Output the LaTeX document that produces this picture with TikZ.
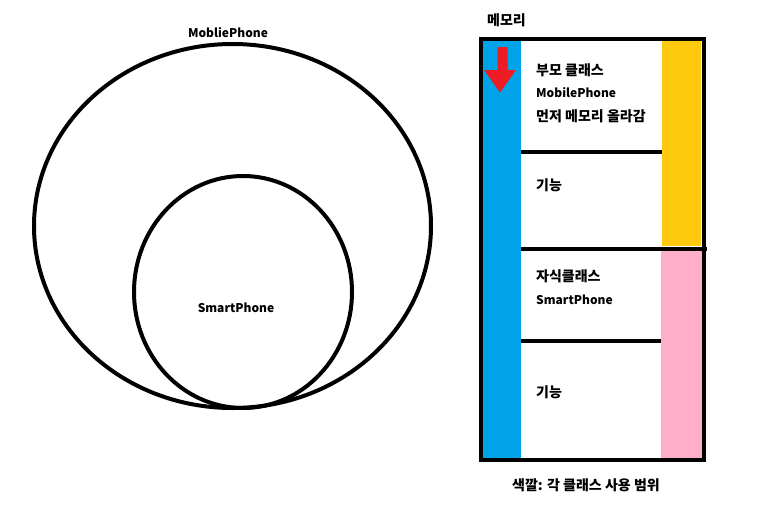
\documentclass[tikz,border=0pt]{standalone}
\usepackage{fontspec}
\setmainfont{Noto Sans CJK KR}
\definecolor{memblue}{RGB}{0,162,232}
\definecolor{memyellow}{RGB}{255,201,14}
\definecolor{mempink}{RGB}{255,174,201}
\definecolor{memred}{RGB}{237,28,36}
\tikzset{
  label text/.style={font=\fontsize{12}{14}\selectfont\bfseries, inner sep=0pt},
  kr text/.style={font=\fontsize{14}{16}\selectfont\bfseries, inner sep=0pt},
  mem text/.style={label text, anchor=west},
  mem kr/.style={kr text, anchor=west},
  wall/.style={line width=4pt, draw=black}
}
\begin{document}
\begin{tikzpicture}[x=1pt, y=-1pt]
        \useasboundingbox (0,0) rectangle (768,515);
        % class circles
        \draw[wall] (232.5,226) ellipse [x radius=198.5, y radius=182];
        \draw[wall] (243,292) ellipse [x radius=109, y radius=116];
        \node[label text] (mobile) at (228,33)  {MobliePhone};
        \node[label text] (smart)  at (236,308) {SmartPhone};

        % memory colour bands
        \fill[memblue]   (483,41)  rectangle (521,458);
        \fill[memyellow] (662,41)  rectangle (701,246);
        \fill[mempink]   (661,251) rectangle (703,458);
        % memory frame and slots
        \draw[wall] (481,39) rectangle (703.5,460);
        \draw[wall] (521,151.5) -- (662,151.5);
        \draw[wall] (521,249)   -- (706.5,249);
        \draw[wall] (521,341)   -- (661,341);
        % load direction
        \fill[memred] (497.5,47) -- (507.5,47) -- (507.5,70) -- (516,70)
                      -- (500,92.5) -- (484,70) -- (497.5,70) -- cycle;

        % memory labels
        \node[mem kr]   (memtitle) at (487,20)  {메모리};
        \node[mem kr]   (parent)   at (536,70)  {부모 클래스};
        \node[mem text] (pname)    at (536,93)  {MobilePhone};
        \node[mem kr]   (pfirst)   at (536,116) {먼저 메모리 올라감};
        \node[mem kr]   (pfunc)    at (536,185) {기능};
        \node[mem kr]   (child)    at (536,276) {자식클래스};
        \node[mem text] (cname)    at (536,300) {SmartPhone};
        \node[mem kr]   (cfunc)    at (536,392) {기능};
        \node[kr text]  (legend)   at (586,485) {색깔: 각 클래스 사용 범위};
    \end{tikzpicture}
\end{document}
